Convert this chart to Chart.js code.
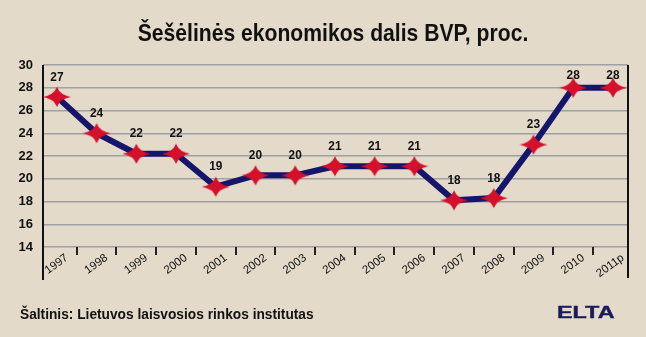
<!DOCTYPE html>
<html>
<head>
<meta charset="utf-8">
<script src="https://cdn.jsdelivr.net/npm/chart.js@4.4.1/dist/chart.umd.min.js"></script>
<style>
  html, body { margin: 0; padding: 0; background: #e3dac9; }
  #wrap { position: relative; width: 646px; height: 337px; background: #e3dac9; overflow: hidden; }
  #c { position: absolute; left: 0; top: 0; }
  .ttl { position: absolute; left: 333px; top: 21px; font: bold 24px/24px 'Liberation Sans', Arial, sans-serif; color: #111; white-space: nowrap; transform: translateX(-50%) scaleX(0.88); }
  .src { position: absolute; left: 20px; top: 306px; font: bold 15px/15px 'Liberation Sans', Arial, sans-serif; color: #111; white-space: nowrap; transform-origin: 0 50%; transform: scaleX(0.915); }
  .elta { position: absolute; left: 557px; top: 305px; font: 900 16px/16px 'Liberation Sans', Arial, sans-serif; color: #1a1a5c; transform-origin: 0 50%; transform: scaleX(1.46); -webkit-text-stroke: 0.4px #1a1a5c; }
</style>
</head>
<body>
<div id="wrap">
  <canvas id="c" width="646" height="337"></canvas>
  <div class="ttl" id="ttl"></div>
  <div class="src">Šaltinis: Lietuvos laisvosios rinkos institutas</div>
  <div class="elta">ELTA</div>
</div>
<script>
const years = ['1997','1998','1999','2000','2001','2002','2003','2004','2005','2006','2007','2008','2009','2010','2011p'];
const shares = [27.2, 24.0, 22.2, 22.2, 19.3, 20.3, 20.3, 21.1, 21.1, 21.1, 18.1, 18.3, 23.0, 28.0, 28.0];
const shareLabels = ['27','24','22','22','19','20','20','21','21','21','18','18','23','28','28'];
const yTicks = [14, 16, 18, 20, 22, 24, 26, 28, 30];
const titleText = 'Šešėlinės ekonomikos dalis BVP, proc.';
document.getElementById('ttl').textContent = titleText;

const SANS = "'Liberation Sans', Arial, sans-serif";

// four-pointed star marker
function makeStar() {
  const w = 30, h = 22;
  const c = document.createElement('canvas');
  c.width = w; c.height = h;
  const g = c.getContext('2d');
  const cx = w / 2, cy = h / 2;
  g.beginPath();
  g.moveTo(cx - 14, cy);
  g.quadraticCurveTo(cx - 3, cy - 2, cx, cy - 10);
  g.quadraticCurveTo(cx + 3, cy - 2, cx + 14, cy);
  g.quadraticCurveTo(cx + 3, cy + 2, cx, cy + 10);
  g.quadraticCurveTo(cx - 3, cy + 2, cx - 14, cy);
  g.closePath();
  g.fillStyle = '#d4102a';
  g.fill();
  return c;
}
const star = makeStar();

const decor = {
  id: 'decor',
  beforeDatasetsDraw(chart) {
    const { ctx, chartArea, scales } = chart;
    const xs = scales.x;
    ctx.save();
    ctx.strokeStyle = '#111';
    ctx.lineWidth = 2;
    ctx.beginPath();
    ctx.moveTo(chartArea.left, chartArea.top);
    ctx.lineTo(chartArea.left, xs.bottom);
    ctx.moveTo(chartArea.right, chartArea.top);
    ctx.lineTo(chartArea.right, xs.bottom - 2);
    ctx.stroke();
    ctx.strokeStyle = '#222';
    ctx.beginPath();
    for (let i = 0; i < years.length - 1; i++) {
      const px = Math.round(xs.getPixelForValue(i + 0.5));
      ctx.moveTo(px, chartArea.bottom);
      ctx.lineTo(px, chartArea.bottom + 8);
    }
    ctx.stroke();
    ctx.restore();
  },
  afterDatasetsDraw(chart) {
    const { ctx, chartArea } = chart;
    const meta = chart.getDatasetMeta(0);
    ctx.save();
    ctx.fillStyle = '#111';
    ctx.font = 'bold 13.5px ' + SANS;
    ctx.textAlign = 'center';
    ctx.textBaseline = 'middle';
    meta.data.forEach((pt, i) => {
      const ly = Math.max(pt.y - 20, chartArea.top + 10);
      ctx.save();
      ctx.translate(pt.x, ly);
      ctx.scale(0.88, 1);
      ctx.fillText(shareLabels[i], 0, 0);
      ctx.restore();
    });
    ctx.restore();
  }
};

new Chart(document.getElementById('c'), {
  type: 'line',
  data: {
    datasets: [{
      data: shares.map((v, i) => ({ x: i, y: v })),
      borderColor: '#15156b',
      borderWidth: 6,
      tension: 0,
      pointStyle: star,
      pointRadius: 10,
      pointHoverRadius: 10,
      borderJoinStyle: 'round'
    }]
  },
  options: {
    responsive: false,
    animation: false,
    events: [],
    layout: { padding: { left: 0, right: 18, top: 65, bottom: 57 } },
    plugins: {
      legend: { display: false },
      tooltip: { enabled: false },
      title: { display: false }
    },
    scales: {
      x: {
        type: 'linear',
        min: -0.35,
        max: 14.38,
        afterBuildTicks: s => { s.ticks = years.map((_, i) => ({ value: i })); },
        afterFit: s => { s.height = 33; },
        grid: { display: false },
        border: { display: false },
        ticks: {
          autoSkip: false,
          minRotation: 36,
          maxRotation: 36,
          labelOffset: 10,
          padding: -4,
          color: '#111',
          font: { family: SANS, size: 11.5 },
          callback: v => years[v]
        }
      },
      y: {
        min: 14,
        max: 30,
        afterBuildTicks: s => { s.ticks = yTicks.map(v => ({ value: v })); },
        afterFit: s => { s.width = 43; },
        grid: { color: '#9ea0a6', lineWidth: 1.5, drawTicks: false },
        border: { display: false },
        ticks: {
          padding: 10,
          color: '#111',
          font: { family: SANS, size: 13, weight: 'bold' }
        }
      }
    }
  },
  plugins: [decor]
});
</script>
</body>
</html>
